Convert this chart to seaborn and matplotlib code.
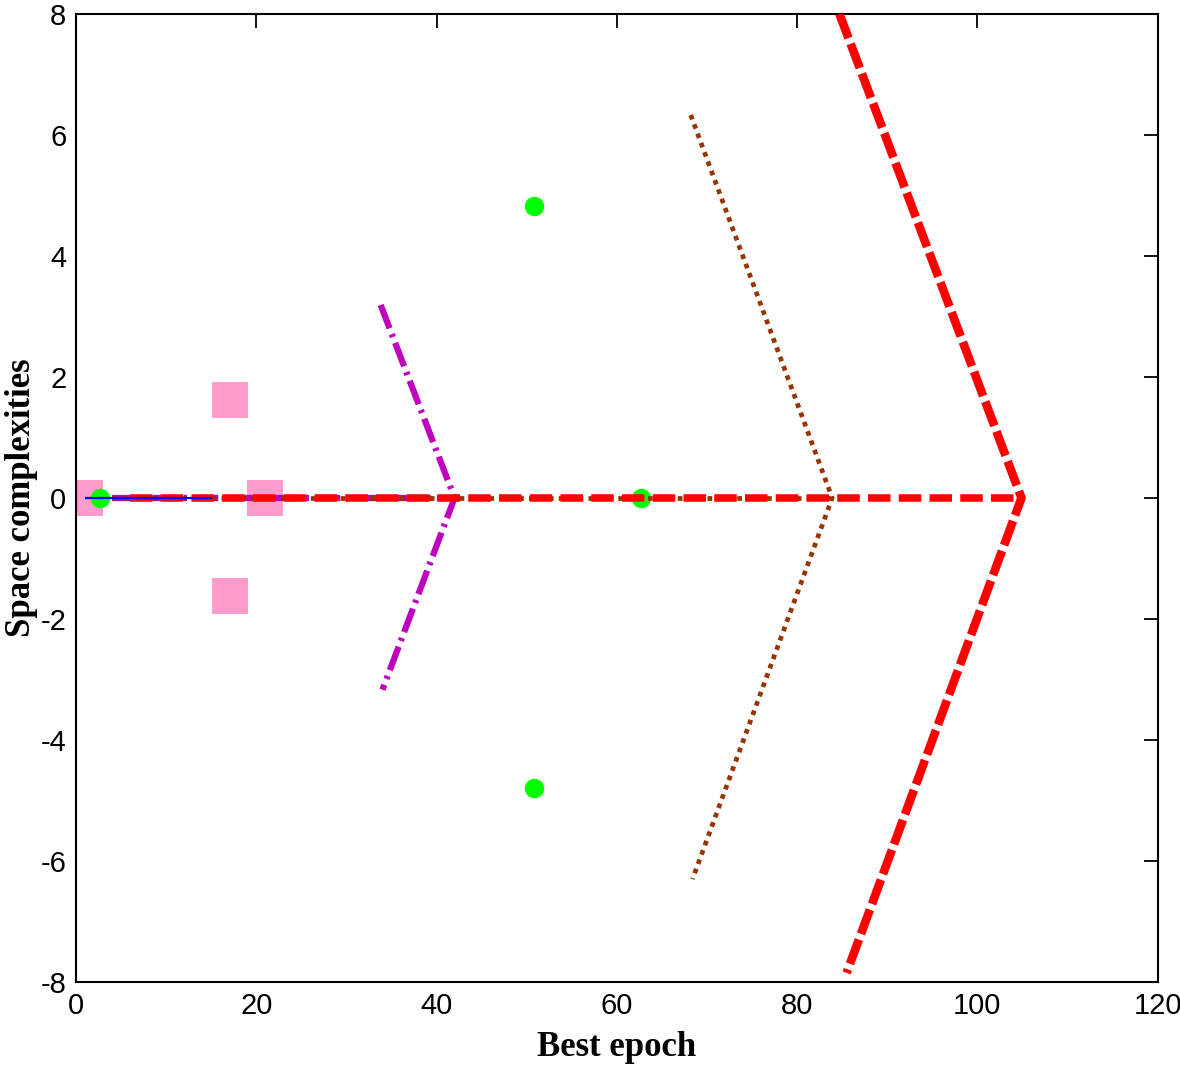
import numpy as np
import pandas as pd
import seaborn as sns
import matplotlib
matplotlib.use("Agg")
import matplotlib.pyplot as plt

# chart values
red_head_x = [84.7, 104.9, 85.5]
red_head_y = [8.0, 0.0, -7.85]
red_shaft_x = [6.0, 104.9]
red_shaft_y = [0.0, 0.0]

brown_head_x = [68.2, 83.9, 68.4]
brown_head_y = [6.33, 0.0, -6.3]
brown_shaft_x = [4.0, 83.9]
brown_shaft_y = [0.0, 0.0]

magenta_head_x = [33.8, 42.0, 34.0]
magenta_head_y = [3.19, 0.0, -3.17]
magenta_shaft_x = [4.0, 42.0]
magenta_shaft_y = [0.0, 0.0]

blue_x = [1.0, 15.1]
blue_y = [0.0, 0.0]

green_x = [2.7, 50.8, 50.8, 62.7]
green_y = [0.0, 4.83, -4.8, 0.0]

pink_x = [1.0, 17.1, 17.1, 21.0]
pink_y = [0.0, 1.62, -1.62, 0.0]

sns.set_style("white")
plt.rcParams['axes.unicode_minus'] = False
plt.rcParams['font.family'] = ['Liberation Sans Narrow', 'Liberation Sans', 'DejaVu Sans']
plt.rcParams['text.color'] = 'black'
plt.rcParams['axes.labelcolor'] = 'black'

fig = plt.figure(figsize=(11.8, 10.72), dpi=100)
ax = fig.add_axes([0.0644, 0.084, 0.9166, 0.903])

sns.scatterplot(x=pink_x, y=pink_y, marker='s', s=26**2, color='#ff9ccb',
                linewidth=0, ax=ax, zorder=1)
sns.scatterplot(x=green_x, y=green_y, marker='o', s=14**2, color='#00ff00',
                linewidth=0, ax=ax, zorder=2)

def draw(xs, ys, color, lw, dashes, z):
    d = pd.DataFrame({'x': xs, 'y': ys})
    sns.lineplot(data=d, x='x', y='y', sort=False, estimator=None, color=color,
                 linewidth=lw, ax=ax, zorder=z, dashes=False)
    ax.lines[-1].set_dashes(dashes)
    ax.lines[-1].set_solid_capstyle('butt')
    ax.lines[-1].set_dash_capstyle('butt')

draw(magenta_shaft_x, magenta_shaft_y, '#bf00bf', 4.5, (4, 1.0, 0.5, 1.0), 3)
draw(magenta_head_x, magenta_head_y, '#bf00bf', 4.5, (4, 1.0, 0.5, 1.0), 3)
draw(brown_shaft_x, brown_shaft_y, '#993300', 3.4, (1.0, 1.1), 4)
draw(brown_head_x, brown_head_y, '#993300', 3.4, (1.0, 1.1), 4)
draw(red_shaft_x, red_shaft_y, '#ff0000', 5.4, (3, 1.1), 5)
draw(red_head_x, red_head_y, '#ff0000', 6.2, (3, 0.7), 5)
draw(blue_x, blue_y, '#0000ff', 1.6, (1, 0), 6)

ax.set_xlim(0, 120)
ax.set_ylim(-8, 8)
ax.set_xticks(np.arange(0, 121, 20))
ax.set_yticks(np.arange(-8, 9, 2))
ax.tick_params(direction='in', length=10, width=1.3, top=True, right=True,
               labelsize=21, pad=7, colors='black')
for s in ax.spines.values():
    s.set_visible(True)
    s.set_color('black')
    s.set_linewidth(1.5)

ax.set_xlabel('Best epoch', family='Liberation Serif', fontweight='bold',
              fontsize=25, labelpad=8, color='black')
ax.set_ylabel('Space complexities', family='Liberation Serif', fontweight='bold',
              fontsize=25, labelpad=2, color='black')

fig.savefig('out.png', dpi=100, facecolor='white')
